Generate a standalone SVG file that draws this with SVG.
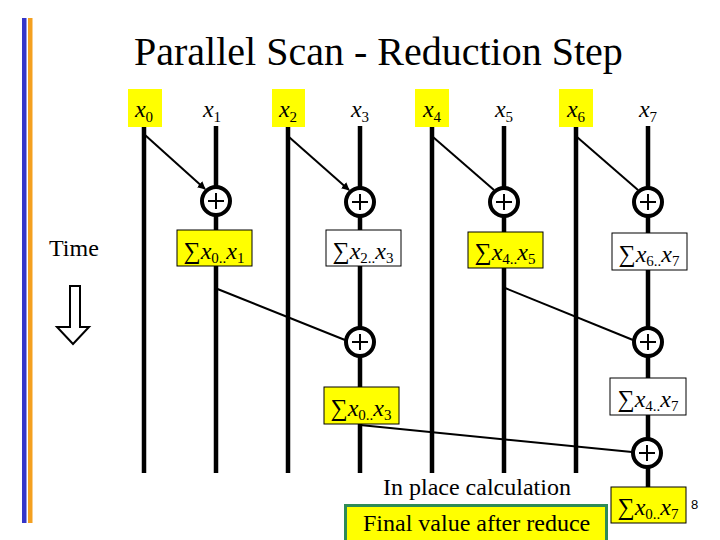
<svg xmlns="http://www.w3.org/2000/svg" width="720" height="540" viewBox="0 0 720 540" font-family="'Liberation Serif', 'Times New Roman', Times, serif">
<defs>
<style>
.t24{font-size:24px}
.it{font-style:italic}
.sub{font-size:15px}
.rail{stroke:#000;stroke-width:4.5}
.diag{stroke:#000;stroke-width:2;fill:none}
.op{fill:#fff;stroke:#000;stroke-width:4}
.plus{stroke:#000;stroke-width:2}
.yb{fill:#ffff00;stroke:#000;stroke-width:1}
.wb{fill:#fff;stroke:#000;stroke-width:1}
.hy{fill:#ffff00}
</style>
<marker id="ah" viewBox="0 0 10 10" refX="9" refY="5" markerWidth="4" markerHeight="4" orient="auto"><path d="M0,0 L10,5 L0,10 z" fill="#000"/></marker>
</defs>
<rect width="720" height="540" fill="#fff"/>
<rect x="22" y="18" width="4.5" height="505" fill="#3535c8"/>
<rect x="28" y="18" width="4.5" height="505" fill="#f4a020"/>
<text x="134" y="65" font-size="40" font-family="'Liberation Serif', 'Times New Roman', serif">Parallel Scan - Reduction Step</text>
<text x="49" y="256" class="t24">Time</text>
<polygon points="70,286 80,286 80,327 89,327 73,344 57,327 70,327" fill="#fff" stroke="#000" stroke-width="2"/>

<g id="connectors">
<line class="rail" x1="144" y1="126" x2="144" y2="473"/>
<line class="rail" x1="216" y1="126" x2="216" y2="473"/>
<line class="rail" x1="288" y1="126" x2="288" y2="473"/>
<line class="rail" x1="360" y1="126" x2="360" y2="473"/>
<line class="rail" x1="432" y1="126" x2="432" y2="473"/>
<line class="rail" x1="504" y1="126" x2="504" y2="473"/>
<line class="rail" x1="576" y1="126" x2="576" y2="473"/>
<line class="rail" x1="648" y1="126" x2="648" y2="488"/>
<line class="diag" x1="145" y1="135" x2="205" y2="189" marker-end="url(#ah)"/>
<line class="diag" x1="289" y1="137" x2="349" y2="190" marker-end="url(#ah)"/>
<line class="diag" x1="433" y1="137" x2="494" y2="190"/>
<line class="diag" x1="577" y1="137" x2="638" y2="190"/>
<line class="diag" x1="215" y1="288" x2="345" y2="340"/>
<line class="diag" x1="505" y1="288" x2="633" y2="340"/>
<line class="diag" x1="360" y1="425" x2="632" y2="452"/>
</g>

<g id="x0"><rect class="hy" x="128" y="89" width="34" height="38"/><text x="144" y="117" text-anchor="middle" class="t24"><tspan class="it">x</tspan><tspan class="sub" dy="5">0</tspan></text></g>
<g id="x1"><text x="212" y="117" text-anchor="middle" class="t24"><tspan class="it">x</tspan><tspan class="sub" dy="5">1</tspan></text></g>
<g id="x2"><rect class="hy" x="272" y="89" width="33" height="38"/><text x="288" y="117" text-anchor="middle" class="t24"><tspan class="it">x</tspan><tspan class="sub" dy="5">2</tspan></text></g>
<g id="x3"><text x="360" y="117" text-anchor="middle" class="t24"><tspan class="it">x</tspan><tspan class="sub" dy="5">3</tspan></text></g>
<g id="x4"><rect class="hy" x="415" y="89" width="34" height="38"/><text x="432" y="117" text-anchor="middle" class="t24"><tspan class="it">x</tspan><tspan class="sub" dy="5">4</tspan></text></g>
<g id="x5"><text x="504" y="117" text-anchor="middle" class="t24"><tspan class="it">x</tspan><tspan class="sub" dy="5">5</tspan></text></g>
<g id="x6"><rect class="hy" x="559" y="89" width="34" height="38"/><text x="576" y="117" text-anchor="middle" class="t24"><tspan class="it">x</tspan><tspan class="sub" dy="5">6</tspan></text></g>
<g id="x7"><text x="648" y="117" text-anchor="middle" class="t24"><tspan class="it">x</tspan><tspan class="sub" dy="5">7</tspan></text></g>

<g id="add01"><circle class="op" cx="216" cy="201" r="14"/><path class="plus" d="M208,201 H224 M216,193 V209"/></g>
<g id="add23"><circle class="op" cx="360" cy="202" r="14"/><path class="plus" d="M352,202 H368 M360,194 V210"/></g>
<g id="add45"><circle class="op" cx="504" cy="202" r="14"/><path class="plus" d="M496,202 H512 M504,194 V210"/></g>
<g id="add67"><circle class="op" cx="648" cy="202" r="14"/><path class="plus" d="M640,202 H656 M648,194 V210"/></g>

<g id="sum01"><rect class="yb" x="177" y="230" width="75" height="36"/><text x="214" y="259" text-anchor="middle" class="t24">∑<tspan class="it">x</tspan><tspan class="sub" dy="4">0..</tspan><tspan class="it" dy="-4">x</tspan><tspan class="sub" dy="4">1</tspan></text></g>
<g id="sum23"><rect class="wb" x="326" y="230" width="75" height="36"/><text x="363" y="259" text-anchor="middle" class="t24">∑<tspan class="it">x</tspan><tspan class="sub" dy="4">2..</tspan><tspan class="it" dy="-4">x</tspan><tspan class="sub" dy="4">3</tspan></text></g>
<g id="sum45"><rect class="yb" x="468" y="232" width="75" height="36"/><text x="505" y="260" text-anchor="middle" class="t24">∑<tspan class="it">x</tspan><tspan class="sub" dy="4">4..</tspan><tspan class="it" dy="-4">x</tspan><tspan class="sub" dy="4">5</tspan></text></g>
<g id="sum67"><rect class="wb" x="612" y="233" width="75" height="37"/><text x="649" y="262" text-anchor="middle" class="t24">∑<tspan class="it">x</tspan><tspan class="sub" dy="4">6..</tspan><tspan class="it" dy="-4">x</tspan><tspan class="sub" dy="4">7</tspan></text></g>

<g id="add03"><circle class="op" cx="360" cy="342" r="14"/><path class="plus" d="M352,342 H368 M360,334 V350"/></g>
<g id="add47"><circle class="op" cx="648" cy="342" r="14"/><path class="plus" d="M640,342 H656 M648,334 V350"/></g>

<g id="sum03"><rect class="yb" x="324" y="387" width="75" height="37"/><text x="361" y="416" text-anchor="middle" class="t24">∑<tspan class="it">x</tspan><tspan class="sub" dy="4">0..</tspan><tspan class="it" dy="-4">x</tspan><tspan class="sub" dy="4">3</tspan></text></g>
<g id="sum47"><rect class="wb" x="610" y="378" width="76" height="37"/><text x="648" y="407" text-anchor="middle" class="t24">∑<tspan class="it">x</tspan><tspan class="sub" dy="4">4..</tspan><tspan class="it" dy="-4">x</tspan><tspan class="sub" dy="4">7</tspan></text></g>

<g id="add07"><circle class="op" cx="647" cy="453" r="14"/><path class="plus" d="M639,453 H655 M647,445 V461"/></g>
<g id="sum07"><rect class="yb" x="611" y="487" width="75" height="36"/><text x="648" y="515" text-anchor="middle" class="t24">∑<tspan class="it">x</tspan><tspan class="sub" dy="4">0..</tspan><tspan class="it" dy="-4">x</tspan><tspan class="sub" dy="4">7</tspan></text></g>

<g id="inplace"><text x="383" y="495" class="t24">In place calculation</text></g>
<g id="final"><rect x="345.5" y="505.5" width="261" height="40" fill="#ffff00" stroke="#2e8b57" stroke-width="3"/><text x="363" y="531" class="t24">Final value after reduce</text></g>
<text x="691" y="509" font-family="'Liberation Sans', Arial, sans-serif" font-size="13">8</text>
</svg>
